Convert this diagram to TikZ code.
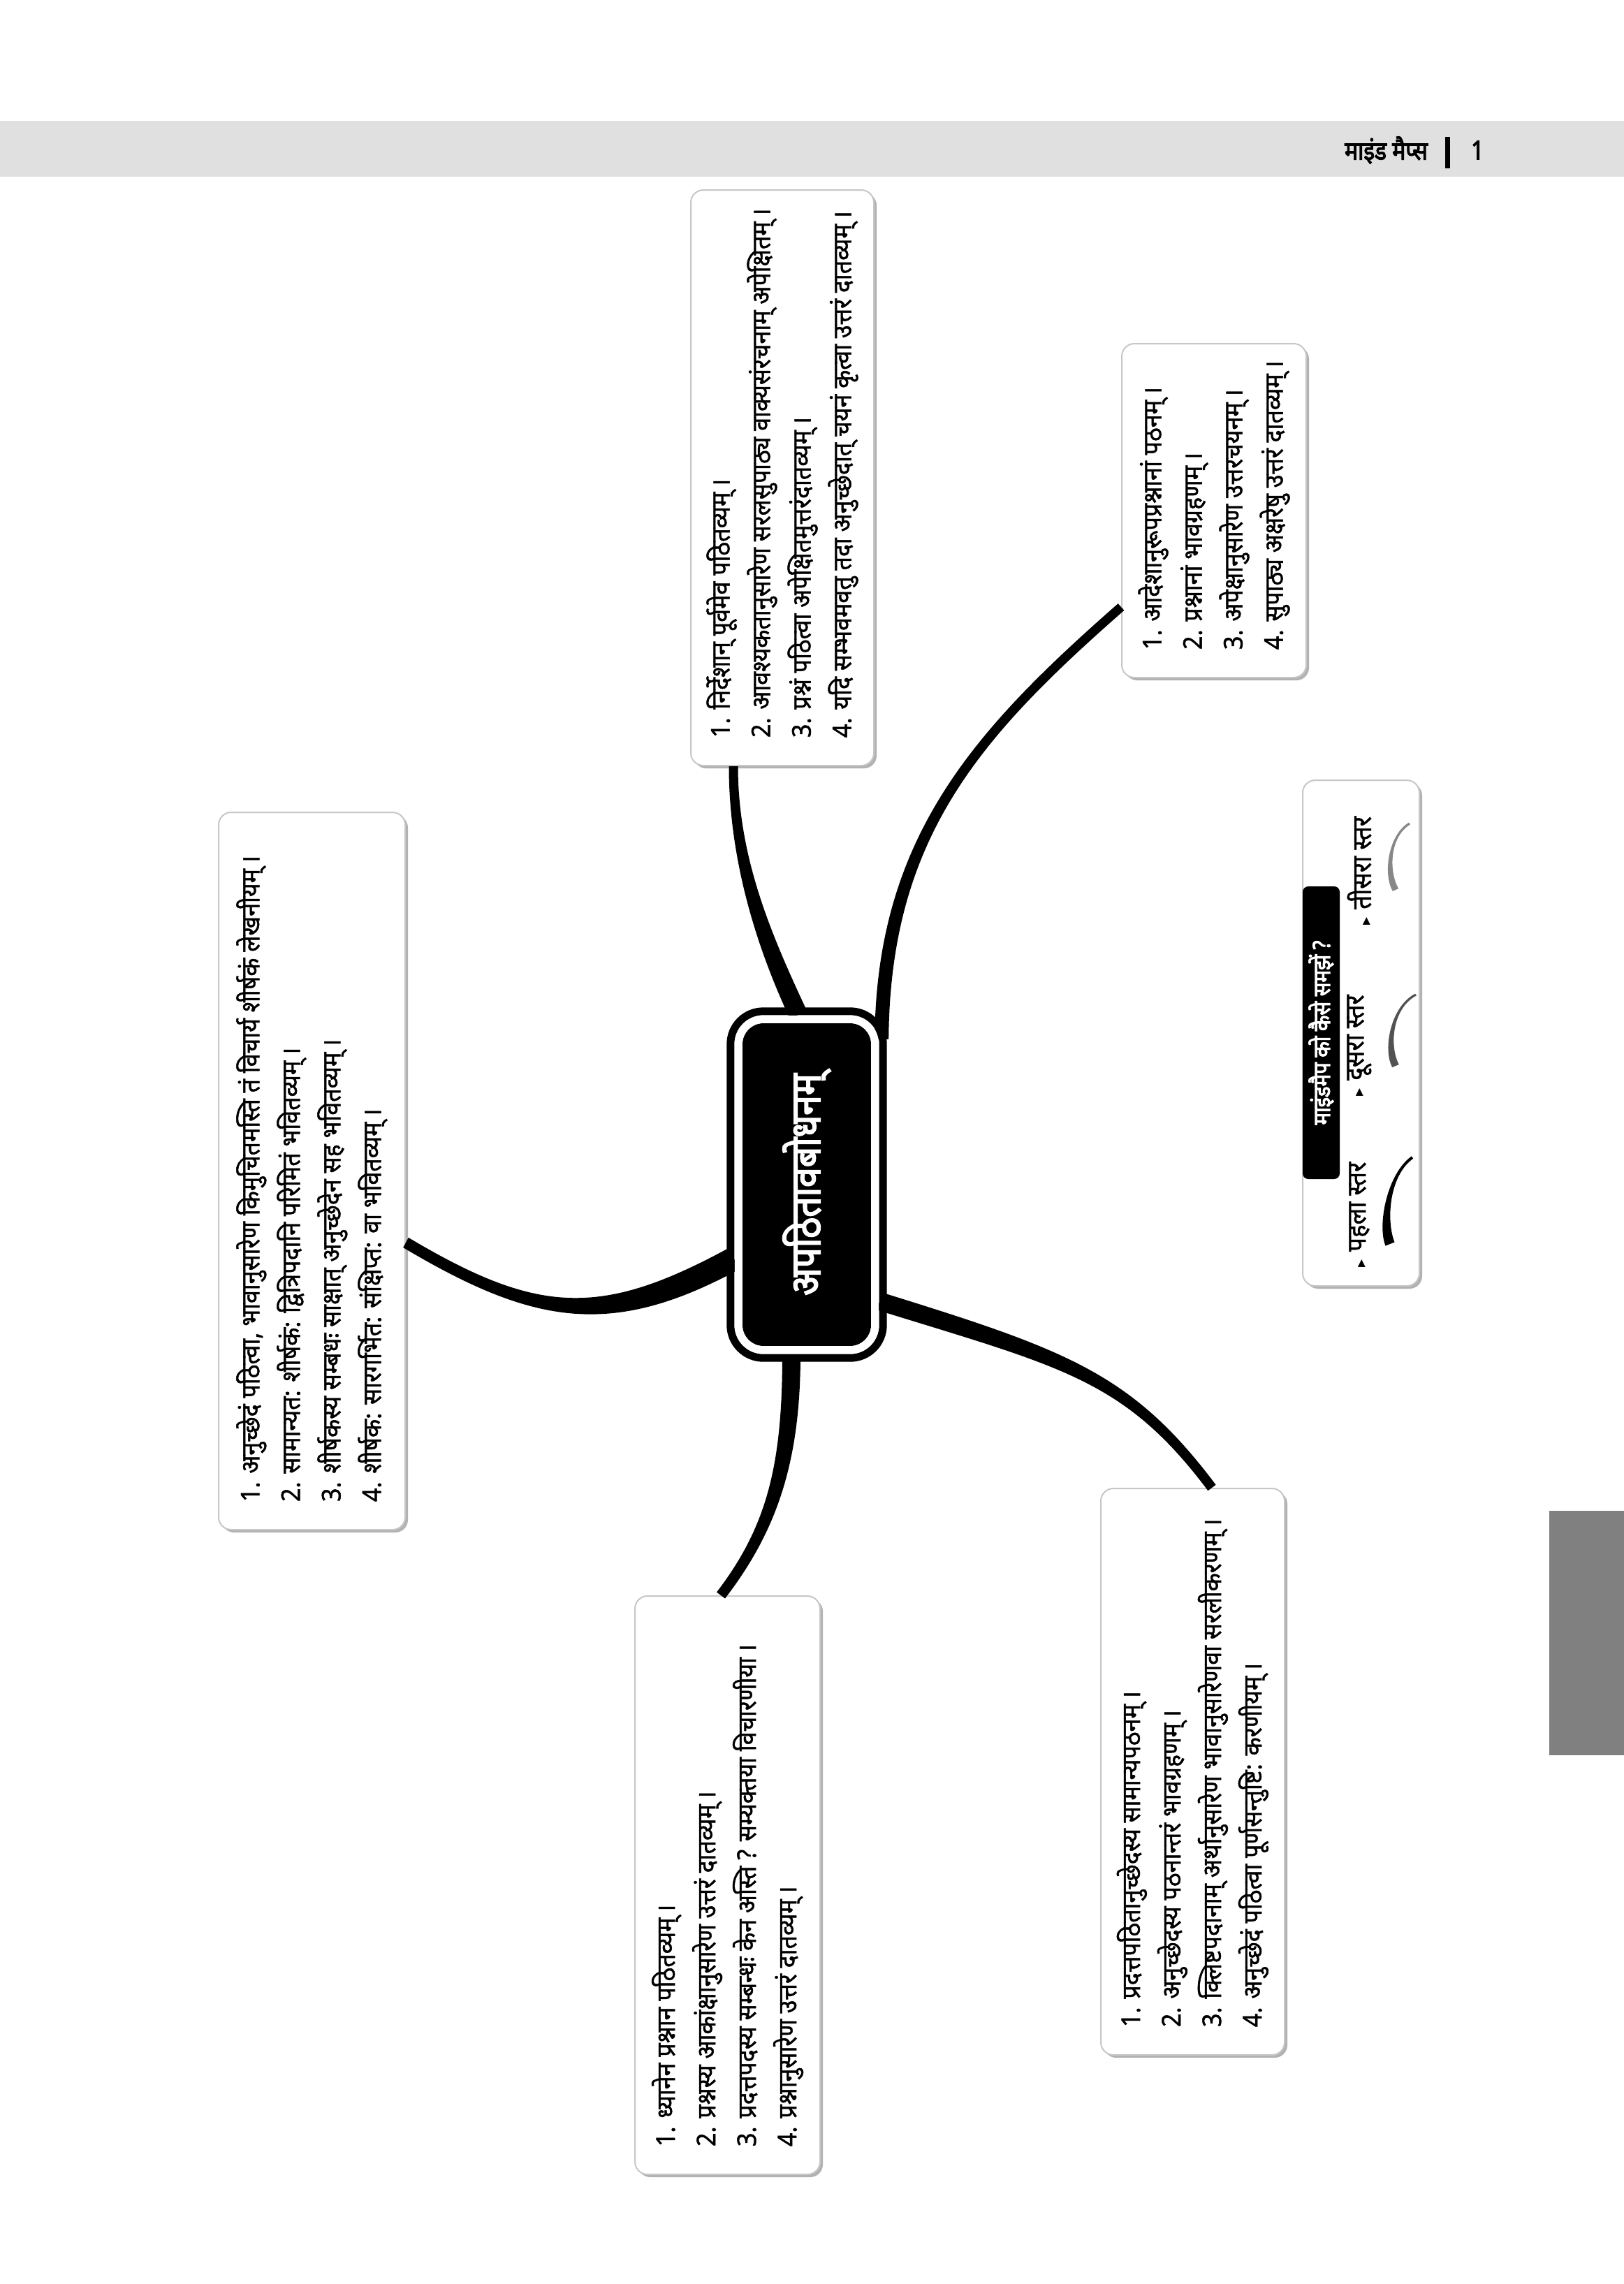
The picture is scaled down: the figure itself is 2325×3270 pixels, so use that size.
\documentclass[tikz,border=0pt]{standalone}
\usepackage{fontspec}
\usepackage{graphicx}
\setmainfont[Script=Devanagari, FakeStretch=0.92, FakeBold=1.3]{Noto Sans}
\newfontfamily\devbold[Script=Devanagari, FakeStretch=0.86, FakeBold=3]{Noto Sans}
\newfontfamily\symfont{DejaVu Sans}
\usetikzlibrary{calc,shadows}
\tikzset{
  mbox/.style={draw=black!22, line width=2pt, fill=white, rounded corners=18pt, inner sep=0pt,
    font=\fontsize{37}{58}\selectfont,
    drop shadow={shadow xshift=4pt, shadow yshift=-4pt, opacity=0.3, fill=black}},
  cnode/.style={fill=black, rounded corners=30pt, minimum width=184pt, minimum height=462pt, inner sep=0pt, text=white,
    font=\devbold\fontsize{60}{62}\selectfont},
  ltitle/.style={fill=black, rounded corners=8pt, minimum width=53pt, minimum height=419pt, inner sep=0pt, text=white,
    font=\devbold\fontsize{34}{36}\selectfont},
  litem/.style={inner sep=0pt, anchor=south, font=\fontsize{38}{40}\selectfont},
  hdr/.style={inner sep=0pt, font=\devbold\fontsize{37}{40}\selectfont}
}
\newcommand\boxlines[2]{\rotatebox{90}{\begin{minipage}{#1}\raggedright #2\end{minipage}}}
\newcommand\branch[7][black]{\fill[#1] ($#2+#4$) .. controls +#6 and +#7 .. ($#3+#5$) -- ($#3-#5$) .. controls +#7 and +#6 .. ($#2-#4$) -- cycle;}
\newcommand\itemtext[1]{\rotatebox{90}{{\symfont\fontsize{22}{22}\selectfont ▸}\hspace{12pt}#1}}
\begin{document}
\begin{tikzpicture}[x=1pt,y=-1pt]
\useasboundingbox (0,0) rectangle (2325,3270);
\fill[white] (0,0) rectangle (2325,3270);
% header
\fill[black!12] (0,173) rectangle (2325,253);
\node[hdr, anchor=east] (h1) at (2044,215) {माइंड मैप्स};
\fill (2069,196) rectangle (2076,241);
\node[hdr, anchor=west] (h2) at (2106,215) {1};
% side tab
\fill[black!50] (2218,2163) rectangle (2325,2513);

% boxes
\node[mbox, minimum width=262pt, minimum height=824pt] (b1) at (1120,684) {\boxlines{744pt}{%
\mbox{1. निर्देशान् पूर्वमेव पठितव्यम्\,।}\\
\mbox{2. आवश्यकतानुसारेण सरलसुपाठ्य वाक्यसंरचनाम् अपेक्षितम्\,।}\\
\mbox{3. प्रश्नं पठित्वा अपेक्षितमुत्तरंदातव्यम्\,।}\\
\mbox{4. यदि सम्भवमवतु तदा अनुच्छेदात् चयनं कृत्वा उत्तरं दातव्यम्\,।}}};
\node[mbox, minimum width=264pt, minimum height=478pt] (b2) at (1738,731) {\boxlines{398pt}{%
\mbox{1. आदेशानुरूपप्रश्नानां पठनम्\,।}\\
\mbox{2. प्रश्नानां भावग्रहणम्\,।}\\
\mbox{3. अपेक्षानुसारेण उत्तरचयनम्\,।}\\
\mbox{4. सुपाठ्य अक्षरेषु उत्तरं दातव्यम्\,।}}};
\node[mbox, minimum width=267pt, minimum height=1027pt] (b3) at (446.5,1676.5) {\boxlines{947pt}{%
\mbox{1. अनुच्छेदं पठित्वा, भावानुसारेण किमुचितमस्ति तं विचार्य शीर्षकं लेखनीयम्\,।}\\
\mbox{2. सामान्यत: शीर्षकं: द्वित्रिपदानि परिमितं भवितव्यम्\,।}\\
\mbox{3. शीर्षकस्य सम्बधः साक्षात् अनुच्छेदेन सह भवितव्यम्\,।}\\
\mbox{4. शीर्षक: सारगर्भित: संक्षिप्त: वा भवितव्यम्\,।}}};
\node[mbox, minimum width=265pt, minimum height=828pt] (b4) at (1041.5,2699) {\boxlines{748pt}{%
\mbox{1. ध्यानेन प्रश्नान पठितव्यम्\,।}\\
\mbox{2. प्रश्नस्य आकांक्षानुसारेण उत्तरं दातव्यम्\,।}\\
\mbox{3. प्रदत्तपदस्य सम्बन्धः केन अस्ति ? सम्यक्तया विचारणीया\,।}\\
\mbox{4. प्रश्नानुसारेण उत्तरं दातव्यम्\,।}}};
\node[mbox, minimum width=263pt, minimum height=811pt] (b5) at (1707.5,2536.5) {\boxlines{731pt}{%
\mbox{1. प्रदत्तपठितानुच्छेदस्य सामान्यपठनम्\,।}\\
\mbox{2. अनुच्छेदस्य पठनान्तरं भावग्रहणम्\,।}\\
\mbox{3. क्लिष्टपदानाम् अर्थानुसारेण भावानुसारेणवा सरलीकरणम्\,।}\\
\mbox{4. अनुच्छेदं पठित्वा पूर्णसन्तुष्टि: करणीयम्\,।}}};

% centre
\node[cnode] (c) at (1155,1696) {\rotatebox{90}{अपठितावबोधनम्}};
\draw[line width=11pt, rounded corners=47pt] ($(c.south west)+(-17,17)$) rectangle ($(c.north east)+(17,-17)$);

% branch end points
\coordinate (a0) at ($(b1.south)+(-70,0)$);
\coordinate (a3) at ($(c.north)+(-12,-12)$);
\coordinate (bb0) at ($(b2.west)+(0,138)$);
\coordinate (bb3) at ($(c.north east)+(15,23)$);
\coordinate (c0) at ($(b3.east)+(0,102.5)$);
\coordinate (c3) at ($(c.west)+(-12,106)$);
\coordinate (d0) at ($(b4.north)+(-9.5,0)$);
\coordinate (d3) at ($(c.south)+(-22,12)$);
\coordinate (e0) at ($(b5.north)+(27.5,0)$);
\coordinate (e3) at ($(c.east)+(12,167)$);

\branch{(a0)}{(a3)}{(6.5,0)}{(12,-6)}{(0,134)}{(-48,-103)}
\branch{(bb0)}{(bb3)}{(4.4,4.8)}{(10,0)}{(-205,180)}{(2,-290)}
\branch{(c0)}{(c3)}{(3.8,-7.1)}{(-7.5,-15.2)}{(185,110)}{(-184,100)}
\branch{(d0)}{(d3)}{(-6,-4.5)}{(-13,0)}{(73,-95)}{(0,156)}
\branch{(e0)}{(e3)}{(-5.6,4.2)}{(-3.8,12.4)}{(-120,-160)}{(264,82)}

% white gap of the centre frame
\draw[white, line width=11pt, rounded corners=35.5pt] ($(c.south west)+(-5.5,5.5)$) rectangle ($(c.north east)+(5.5,-5.5)$);

% legend
\node[mbox, minimum width=167pt, minimum height=724pt] (lg) at (1948.5,1479) {};
\node[ltitle] (lt) at (1891.5,1478.5) {\rotatebox{90}{माइंडमैप को कैसे समझें ?}};
\node[litem] (l1) at (1946,1815) {\itemtext{पहला स्तर}};
\node[litem] (l2) at (1946,1570) {\itemtext{दूसरा स्तर}};
\node[litem] (l3) at (1946,1325) {\itemtext{तीसरा स्तर}};
\coordinate (p0) at (2022,1657); \coordinate (p3) at (1990,1781);
\coordinate (q0) at (2027,1424); \coordinate (q3) at (1998,1526);
\coordinate (r0) at (2018,1179); \coordinate (r3) at (1998,1274);
\branch[black]{(p0)}{(p3)}{(1.2,1.6)}{(6.5,-2.6)}{(-35,25)}{(-12,-30)}
\branch[black!68]{(q0)}{(q3)}{(1,1.3)}{(4.8,-2)}{(-35,18)}{(-14,-26)}
\branch[black!47]{(r0)}{(r3)}{(1,1.3)}{(4.2,-1.8)}{(-30,18)}{(-14,-24)}
\end{tikzpicture}
\end{document}
